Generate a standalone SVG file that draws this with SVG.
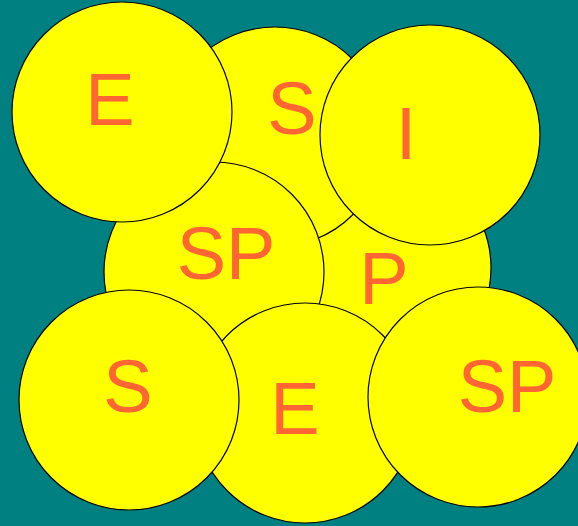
<svg xmlns="http://www.w3.org/2000/svg" width="578" height="526" viewBox="0 0 578 526">
<style>
.c{fill:#FFFF00;stroke:#000;stroke-width:1.2}
.t{font-family:"Liberation Sans",Arial,sans-serif;font-size:74px;fill:#FF6633;text-anchor:middle}
</style>
<rect width="578" height="526" fill="#008080"/>
<g id="node-p"><circle class="c" cx="381" cy="268" r="110"/><text class="t" x="384" y="304">P</text></g>
<g id="node-s-top"><circle class="c" cx="275" cy="137" r="110"/><text class="t" x="292" y="134">S</text></g>
<g id="node-sp-mid"><circle class="c" cx="214" cy="272" r="110"/><text class="t" x="226" y="279">SP</text></g>
<g id="node-e-top"><circle class="c" cx="122" cy="112" r="110"/><text class="t" x="110" y="125">E</text></g>
<g id="node-i"><circle class="c" cx="430" cy="135" r="110"/><text class="t" x="406" y="159">I</text></g>
<g id="node-e-bottom"><circle class="c" cx="305" cy="413" r="110"/><text class="t" x="295" y="434">E</text></g>
<g id="node-s-bottom"><circle class="c" cx="129" cy="400" r="110"/><text class="t" x="128" y="412">S</text></g>
<g id="node-sp-right"><circle class="c" cx="478" cy="397" r="110"/><text class="t" x="507" y="412">SP</text></g>
<g id="connectors"/>
</svg>
